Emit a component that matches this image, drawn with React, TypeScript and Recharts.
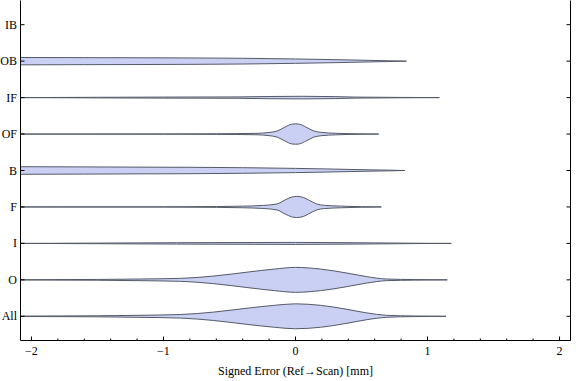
import React from 'react';
import { ComposedChart, Area, XAxis, YAxis } from 'recharts';

// rows from bottom to top: position = index + 1
const categories = ['All', 'O', 'I', 'F', 'B', 'OF', 'IF', 'OB', 'IB'];
const categoryTicks = [1, 2, 3, 4, 5, 6, 7, 8, 9];

const xMajorTicks = [-2, -1, 0, 1, 2];
const xMinorTicks = [-1.8, -1.6, -1.4, -1.2, -0.8, -0.6, -0.4, -0.2, 0.2, 0.4, 0.6, 0.8, 1.2, 1.4, 1.6, 1.8];

// violin half-widths (in row units) at sample x values
const obX = [-2.08, -1.6, -1.2, -0.8, -0.4, 0, 0.3, 0.55, 0.7, 0.84];
const obW = [0.101, 0.096, 0.093, 0.088, 0.079, 0.06, 0.041, 0.022, 0.011, 0];

const ifX = [-2.08, -1.5, -1.0, -0.45, -0.2, 0.05, 0.3, 0.45, 0.8, 1.09];
const ifW = [0, 0.008, 0.014, 0.019, 0.03, 0.036, 0.027, 0.014, 0.005, 0];

const ofX = [-2.08, -1.0, -0.6, -0.3, -0.2, -0.14, -0.08, -0.03, 0, 0.03, 0.08, 0.14, 0.2, 0.3, 0.45, 0.63];
const ofW = [0, 0.003, 0.008, 0.019, 0.044, 0.082, 0.19, 0.27, 0.28, 0.27, 0.19, 0.082, 0.044, 0.022, 0.008, 0];

const bX = [-2.08, -1.6, -1.2, -0.8, -0.4, 0, 0.3, 0.55, 0.7, 0.83];
const bW = [0.104, 0.099, 0.093, 0.088, 0.077, 0.058, 0.038, 0.019, 0.01, 0];

const fX = [-2.08, -1.0, -0.6, -0.4, -0.25, -0.14, -0.08, -0.03, 0.01, 0.06, 0.1, 0.16, 0.22, 0.35, 0.5, 0.65];
const fW = [0, 0.003, 0.011, 0.022, 0.041, 0.082, 0.19, 0.27, 0.29, 0.26, 0.19, 0.082, 0.044, 0.022, 0.008, 0];

const iX = [-2.08, -1.5, -0.9, -0.3, 0, 0.3, 0.6, 0.9, 1.18];
const iW = [0, 0.008, 0.019, 0.025, 0.027, 0.022, 0.014, 0.005, 0];

const oX = [-2.08, -1.5, -1.2, -0.87, -0.62, -0.36, -0.16, 0, 0.19, 0.39, 0.54, 0.69, 0.9, 1.15];
const oW = [0.003, 0.011, 0.022, 0.041, 0.104, 0.214, 0.296, 0.342, 0.296, 0.186, 0.088, 0.022, 0.008, 0];

const allX = [-2.08, -1.5, -1.2, -0.87, -0.62, -0.36, -0.16, 0, 0.19, 0.39, 0.54, 0.69, 0.9, 1.14];
const allW = [0.005, 0.014, 0.027, 0.049, 0.115, 0.225, 0.301, 0.342, 0.301, 0.192, 0.093, 0.027, 0.008, 0];

const violins = [
  { key: 'OB', x: obX, w: obW },
  { key: 'IF', x: ifX, w: ifW },
  { key: 'OF', x: ofX, w: ofW },
  { key: 'B', x: bX, w: bW },
  { key: 'F', x: fX, w: fW },
  { key: 'I', x: iX, w: iW },
  { key: 'O', x: oX, w: oW },
  { key: 'All', x: allX, w: allW },
];

// one row per sampled x, each violin as a [low, high] range around its row
const xs = Array.from(new Set(violins.flatMap(v => v.x))).sort((a, b) => a - b);
const rows = xs.map(x => {
  const row: any = { x };
  violins.forEach(v => {
    const i = v.x.indexOf(x);
    if (i >= 0) {
      const c = categories.indexOf(v.key) + 1;
      row[v.key] = [c - v.w[i], c + v.w[i]];
    }
  });
  return row;
});

const font = { fontFamily: '"Liberation Serif", "DejaVu Serif", serif', fontSize: 12, fill: '#000' };

const fmt = (v: number) => (v < 0 ? '\u2212' + Math.abs(v) : String(v));

function BottomTick(props: any) {
  const { x, y, payload } = props;
  const major = xMajorTicks.includes(payload.value);
  return (
    <g>
      <line x1={x} x2={x} y1={y} y2={y - (major ? 4 : 2)} stroke="#000" />
      {major && (
        <text x={x} y={y + 14.5} textAnchor="middle" style={font}>
          {fmt(payload.value)}
        </text>
      )}
    </g>
  );
}

function TopTick(props: any) {
  const { x, y, payload } = props;
  const major = xMajorTicks.includes(payload.value);
  return <line x1={x} x2={x} y1={y} y2={y + (major ? 4 : 2)} stroke="#000" />;
}

function LeftTick(props: any) {
  const { x, y, payload } = props;
  return (
    <g>
      <line x1={x} x2={x + 4} y1={y} y2={y} stroke="#000" />
      <text x={x - 3.5} y={y} dy={4} textAnchor="end" style={font}>
        {categories[payload.value - 1]}
      </text>
    </g>
  );
}

function RightTick(props: any) {
  const { x, y } = props;
  return <line x1={x} x2={x - 4} y1={y} y2={y} stroke="#000" />;
}

export default function App() {
  return (
    <div style={{ position: 'absolute', left: 0, top: 0, width: 576, height: 381, background: '#fff' }}>
      <ComposedChart width={576} height={381} data={rows} margin={{ top: 0.5, right: 0, bottom: 0, left: 0 }}>
        <XAxis
          xAxisId="b"
          dataKey="x"
          type="number"
          domain={[-2.083, 2.083]}
          allowDataOverflow
          ticks={[...xMajorTicks, ...xMinorTicks]}
          interval={0}
          tickSize={0}
          tickMargin={0}
          tickLine={false}
          tick={<BottomTick />}
          axisLine={{ stroke: '#000' }}
          height={40.5}
          label={{ value: 'Signed Error (Ref\u2192Scan) [mm]', position: 'insideBottom', offset: 6, ...font }}
        />
        <XAxis
          xAxisId="t"
          orientation="top"
          type="number"
          domain={[-2.083, 2.083]}
          allowDataOverflow
          ticks={[...xMajorTicks, ...xMinorTicks]}
          interval={0}
          tickSize={0}
          tickMargin={0}
          tickLine={false}
          tick={<TopTick />}
          axisLine={{ stroke: '#000' }}
          height={0}
        />
        <YAxis
          yAxisId="l"
          type="number"
          domain={[0.336, 9.664]}
          allowDataOverflow
          ticks={categoryTicks}
          interval={0}
          tickSize={0}
          tickMargin={0}
          tickLine={false}
          tick={<LeftTick />}
          axisLine={{ stroke: '#000' }}
          width={20.5}
        />
        <YAxis
          yAxisId="r"
          orientation="right"
          type="number"
          domain={[0.336, 9.664]}
          allowDataOverflow
          ticks={categoryTicks}
          interval={0}
          tickSize={0}
          tickMargin={0}
          tickLine={false}
          tick={<RightTick />}
          axisLine={{ stroke: '#000' }}
          width={5.5}
        />
        {violins.map(v => (
          <Area
            key={v.key}
            xAxisId="b"
            yAxisId="l"
            dataKey={v.key}
            type="monotone"
            connectNulls
            fill="#cad0f3"
            fillOpacity={1}
            stroke="#555a66"
            strokeWidth={1}
            dot={false}
            activeDot={false}
            isAnimationActive={false}
          />
        ))}
      </ComposedChart>
    </div>
  );
}
